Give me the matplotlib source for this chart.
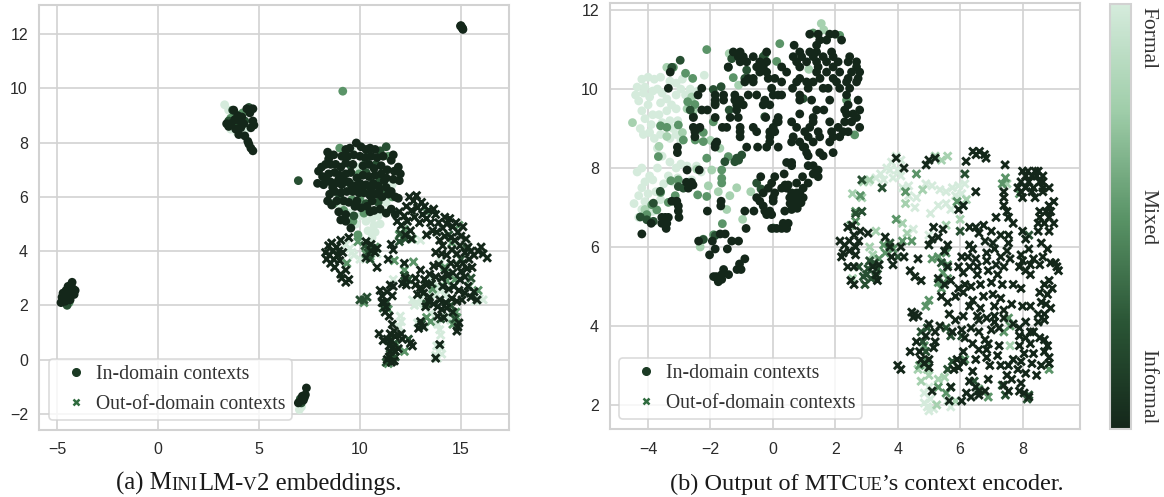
import matplotlib
matplotlib.use("Agg")
import matplotlib.pyplot as plt
from matplotlib.cm import ScalarMappable
from matplotlib.colors import LinearSegmentedColormap, Normalize
from matplotlib.lines import Line2D

W, H = 1164, 497

# formality tone of each group: 0 informal, 1 formal
DARK, DEEP, MID, PALE, LIGHT = 0.0, 0.22, 0.5, 0.78, 1.0
cbar_colors = ["#14271a", "#2a5535", "#5a9467", "#9fcda9", "#d5ebdc"]
cbar_labels = ["Formal", "Mixed", "Informal"]
legend_labels = ["In-domain contexts", "Out-of-domain contexts"]
a_xticks = [-5, 0, 5, 10, 15]
a_yticks = [-2, 0, 2, 4, 6, 8, 10, 12]
b_xticks = [-4, -2, 0, 2, 4, 6, 8]
b_yticks = [2, 4, 6, 8, 10, 12]

# panel a, in-domain
a_in_light = [(10.0,5.3),(10.3,5.1),(10.6,5.2),(10.9,5.3),(11.1,5.5),(10.7,4.95),(10.4,4.75),(10.75,4.7),(9.8,5.0),(9.5,5.4),
              (9.1,5.7),(9.5,7.5),(9.6,7.7),(9.95,7.1),(8.9,6.1),(11.4,6.3),(11.6,6.45),(11.3,5.8),(11.0,5.0),(3.3,9.4),
              (3.5,9.2),(3.7,8.9),(3.9,8.4),(4.2,8.3),(4.35,8.5),(3.6,8.5),(7.0,-1.85),(7.1,-1.75),(7.05,-1.65),(10.0,4.45),(10.6,4.5)]
a_in_mid = [(8.5,7.5),(9.0,7.8),(9.95,6.85),(10.3,7.3),(10.4,6.3),(10.0,5.9),(9.2,5.5),(8.7,5.75),(9.6,5.9),(11.6,6.0),(11.2,6.3),
            (10.9,6.5),(9.65,5.1),(10.2,5.4),(9.9,4.6),(3.6,8.9),(4.0,8.7),(4.2,9.1),(3.8,9.1),(9.15,9.9),(7.0,-1.55),(-4.6,2.4),(-4.4,2.1),(11.4,7.5)]
a_in_deep = [(9.55,7.15),(10.4,7.7),(11.0,7.7),(11.3,7.85),(10.8,7.2),(11.0,6.6),(10.3,6.9),(9.5,6.5),(9.0,6.0),(9.7,5.3),(10.3,5.75),
             (10.9,5.8),(3.5,8.8),(3.9,8.6),(4.3,8.8),(3.7,9.2),(4.5,9.3),(6.95,6.6),(7.05,-1.45),(7.1,-1.6),(-4.7,2.2),(-4.5,2.0),(-4.2,2.5)]
a_in_dark = [(15.0,12.32),(15.05,12.25),(15.1,12.18),(15.08,12.22),(14.98,12.3),
             (-4.8,2.1),(-4.75,2.3),(-4.7,2.45),(-4.6,2.15),(-4.6,2.3),(-4.55,2.55),(-4.5,2.2),(-4.5,2.4),(-4.45,2.7),(-4.4,2.35),(-4.4,2.55),(-4.35,2.2),(-4.3,2.45),(-4.3,2.7),(-4.25,2.85),(-4.2,2.6),(-4.15,2.4),(-4.1,2.55),
             (3.4,8.7),(3.5,8.6),(3.6,8.7),(3.75,9.2),(3.8,8.85),(3.85,8.5),(3.95,9.0),(4.0,8.3),(4.05,8.8),(4.1,8.55),(4.15,8.95),(4.25,8.7),(4.3,8.25),(4.4,9.25),(4.45,8.05),(4.5,7.95),(4.6,7.8),(4.7,7.7),(4.6,8.55),(4.7,8.8),(4.75,8.65),(4.55,9.1),(4.7,9.25),
             (7.35,-1.05),(7.25,-1.4),(7.3,-1.3),(7.2,-1.5),(7.15,-1.35),(7.1,-1.5),(6.95,-1.6),
             (9.82,7.99),(10.05,7.85),(9.5,7.8),(9.3,7.75),(10.3,7.75),(10.5,7.8),(10.75,7.75),
             (8.4,7.65),(8.45,7.4),(8.7,7.55),(9.1,7.5),(9.4,7.5),(9.7,7.55),(10.0,7.5),(10.25,7.45),(10.55,7.5),(10.85,7.45),(11.15,7.5),(11.55,7.35),(11.65,7.55),
             (7.95,6.95),(8.1,7.1),(8.3,7.2),(8.55,7.2),(8.8,7.2),(9.05,7.1),(9.3,7.25),(9.65,7.2),(10.15,7.15),(10.45,7.2),(10.7,7.05),(11.05,7.15),(11.35,7.0),(11.7,6.95),(12.0,6.85),(11.9,7.1),
             (8.15,6.75),(8.45,6.85),(8.75,6.9),(9.0,6.8),(9.3,6.85),(9.55,6.9),(9.85,6.7),(10.15,6.8),(10.45,6.75),(10.75,6.8),(11.05,6.85),(11.3,6.7),(11.65,6.65),(11.95,6.6),
             (7.9,6.5),(8.2,6.45),(8.55,6.55),(8.8,6.5),(9.1,6.45),(9.45,6.55),(9.75,6.4),(10.0,6.5),(10.3,6.45),(10.65,6.5),(10.95,6.2),(11.3,6.35),(11.55,6.2),
             (8.5,6.1),(8.75,6.2),(9.05,6.15),(9.35,6.2),(9.65,6.2),(9.95,6.15),(10.2,6.15),(10.5,6.05),(10.8,6.1),(11.1,6.0),(11.9,5.95),(11.75,6.0),
             (8.4,5.85),(8.6,5.7),(8.85,5.85),(9.2,5.85),(9.45,5.8),(9.75,5.65),(10.05,5.6),(10.35,5.65),(10.7,5.5),(11.0,5.55),(11.3,5.4),(8.95,5.45),(9.3,5.35),
             (9.05,5.15),(9.3,5.1),(9.55,4.85),(10.5,5.45),(11.55,5.55),(11.75,5.35),(9.2,6.6),(9.6,6.3),(10.1,6.3),(10.55,6.3),(10.9,6.4),(11.2,6.6),(11.4,6.1),(9.85,5.85),(10.6,5.85),(8.3,6.6),(8.65,6.35),(8.95,6.65)]

# panel a, out-of-domain
a_out_light = [(9.3,4.25),(9.5,4.1),(9.6,3.95),(10.0,3.7),(9.7,3.85),(10.85,3.9),(11.65,2.95),(12.6,2.2),(12.7,2.0),(12.9,2.05),(13.0,2.25),(12.85,1.35),
               (13.2,1.2),(13.5,1.7),(14.5,1.45),(14.7,1.35),(14.3,1.6),(12.0,1.6),(12.05,1.4),(11.95,1.2),(13.85,1.3),(13.95,1.1),(14.0,0.9),
               (13.8,0.5),(14.0,0.45),(13.9,0.3),(13.75,0.15),(14.05,0.2),(13.85,0.05),(13.9,2.7),(13.6,2.5),(13.8,2.4),(14.0,2.6),(14.2,2.35),(15.9,2.25),(16.1,2.2),(15.7,2.15),(14.0,3.6),(13.5,3.0),(13.0,4.4)]
a_out_mid = [(9.9,4.35),(10.5,3.8),(10.75,4.15),(10.3,3.9),(11.7,3.65),(12.65,3.6),(12.2,3.3),(9.35,3.55),(10.2,2.1),(11.4,1.85),(13.3,1.55),(13.5,1.4),(14.6,1.3),
            (14.8,1.55),(14.75,1.75),(13.6,2.6),(14.3,2.9),(14.7,2.95),(15.4,2.7),(15.85,2.55),(13.3,5.45),(12.6,4.45),(12.2,4.8),(11.95,4.6),(14.55,4.3),(14.9,4.95),(12.2,0.3),(11.8,0.55),(11.4,-0.15),(11.5,0.05),(14.2,3.4)]
a_out_deep = [(10.2,2.2),(10.0,2.2),(10.35,2.3),(10.25,4.2),(10.4,3.95),(10.6,4.1),(10.5,3.7),(12.0,4.65),(11.95,4.35),(12.25,4.45),(12.4,2.95),(12.2,3.1),(11.15,1.9),
             (11.3,2.1),(13.05,1.3),(14.0,1.5),(14.7,1.5),(11.4,0.7),(11.7,0.6),(11.5,0.2),(11.75,0.1),(11.6,-0.05),(11.3,-0.1),(12.4,0.75),(14.4,4.6),(15.3,4.1),(15.0,3.7),(15.5,3.0),(14.5,2.0),(13.3,2.05)]
a_out_dark = [(8.3,3.95),(8.35,3.7),(8.45,4.2),(8.5,3.85),(8.55,3.55),(8.6,4.3),(8.65,4.0),(8.7,3.7),(8.75,3.4),(8.85,4.15),(8.9,3.85),(8.95,4.0),(9.0,3.65),(9.05,4.4),(9.15,3.95),(9.45,4.5),(9.3,3.3),(9.1,3.0),(9.3,2.85),(9.45,2.95),(9.05,3.15),
              (10.3,4.35),(10.55,4.25),(10.75,3.95),(10.55,4.0),(10.85,4.1),(10.3,3.75),(10.85,3.4),(11.55,4.25),(11.65,4.05),(11.4,3.7),(12.2,3.55),(12.25,3.0),(12.1,2.8),(12.3,2.75),
              (11.0,2.55),(11.1,2.35),(11.2,2.1),(11.35,2.5),(11.5,2.75),(11.65,2.7),(11.25,1.75),(11.45,1.6),(11.3,1.95),(11.6,2.35),(11.1,2.1),
              (11.85,5.1),(11.95,5.45),(12.05,4.95),(12.2,5.3),(12.3,5.65),(12.35,5.1),(12.45,6.0),(12.5,4.75),(12.55,5.5),(12.65,5.85),(12.7,5.25),(12.8,6.05),(12.85,5.6),(12.95,5.05),(13.05,5.8),(13.1,5.35),(13.2,5.65),(13.3,5.2),(13.4,5.5),(13.5,5.05),(13.65,5.55),(13.75,5.35),(12.25,4.6),(12.55,4.45),(13.6,4.75),(13.3,4.6),
              (13.8,4.7),(13.9,5.05),(13.95,4.4),(14.1,4.85),(14.2,5.25),(14.3,5.0),(14.1,4.2),(14.45,5.2),(14.6,4.9),(14.75,5.05),(14.85,4.7),(15.0,4.55),(15.1,4.9),(15.25,4.45),(15.35,4.15),(15.5,4.0),(15.65,3.85),(16.0,4.15),(16.1,3.9),(16.3,3.75),(15.85,4.0),
              (14.2,4.55),(14.5,4.5),(14.7,4.4),(14.95,4.2),(15.2,3.95),(13.75,3.95),(14.05,3.9),(14.3,3.85),(14.55,4.05),(14.8,3.9),(15.1,3.55),(15.4,3.7),(13.65,3.45),(13.9,3.5),(14.2,3.3),(14.5,3.55),(14.8,3.5),(15.0,3.25),(15.3,3.35),(15.55,3.4),
              (12.75,3.0),(13.0,3.3),(13.2,2.95),(13.45,3.15),(13.75,3.05),(14.05,3.0),(14.35,3.1),(14.6,3.2),(14.95,2.95),(15.2,3.05),(15.35,2.7),(12.75,2.75),(13.0,2.65),(13.3,2.75),(13.55,2.8),(14.1,2.7),(14.4,2.6),(14.65,2.7),(14.9,2.55),(15.2,2.45),(15.5,2.3),(15.8,2.2),(15.65,2.5),
              (12.85,2.4),(13.15,2.45),(13.45,2.3),(13.65,2.05),(13.95,2.2),(14.25,2.1),(14.55,2.25),(14.8,2.15),(15.05,2.2),(13.25,1.95),(13.4,2.15),(13.85,1.95),(14.05,1.85),(14.3,1.9),(14.6,1.75),(14.15,1.55),(13.85,1.6),(13.0,1.4),(12.9,1.15),(13.15,1.2),(14.9,1.35),(14.85,1.2),(14.8,1.05),(12.05,0.95),
              (11.6,1.3),(11.7,1.05),(11.5,0.95),(11.35,0.75),(10.95,0.95),(11.15,0.7),(11.55,0.7),(11.75,0.85),(12.1,0.75),(11.45,0.5),(11.65,0.45),(11.9,0.4),(12.5,0.6),(12.6,0.5),(11.5,0.3),(11.75,0.3),(11.45,0.1),(11.55,-0.1),(11.35,0.0),(11.7,-0.05),(13.75,0.05),(13.95,0.55)]

# panel b, in-domain
b_in_light = [(-4.35,10.05),(-4.4,9.85),(-4.3,9.7),(-4.15,9.9),(-4.1,10.05),(-3.95,9.8),(-4.0,9.6),(-3.85,9.95),(-3.7,10.0),(-3.55,9.9),(-3.6,9.65),(-3.4,9.75),(-3.25,9.6),(-3.1,9.85),(-2.95,10.0),(-2.8,9.85),(-2.65,10.0),(-2.5,9.85),(-2.4,9.95),(-2.7,9.7),
              (-4.2,9.45),(-4.1,9.25),(-3.85,9.35),(-3.9,9.1),(-3.65,9.35),(-3.55,9.15),(-3.4,9.45),(-3.3,9.2),(-3.1,9.5),(-3.2,9.0),(-3.05,9.2),(-4.25,9.0),(-4.15,8.85),(-3.95,8.9),(-3.8,8.75),(-3.6,8.85),(-3.3,8.75),(-3.1,8.85),(-2.95,8.7),(-3.7,8.5),
              (-3.55,8.3),(-3.3,8.15),(-3.1,8.0),(-2.95,8.1),(-2.75,8.05),(-4.35,7.9),(-4.2,8.0),(-3.95,7.8),(-4.1,7.65),(-3.85,7.7),(-3.7,8.0),(-3.5,7.6),(-3.35,7.8),(-3.2,7.65),(-3.05,7.75),(-2.9,7.55),(-4.3,7.3),(-4.1,7.15),(-4.2,7.5),(-4.0,7.35),
              (-3.75,7.4),(-3.6,7.2),(-4.45,7.1),(-4.2,6.95),(-4.3,6.75),(-2.6,7.7),(-2.45,8.05),(-2.3,7.9),(-3.85,6.9),(-4.2,10.25),(-4.0,10.3),(-3.8,10.25),(-3.6,10.3),(-3.3,10.2),(-3.1,10.15),(-2.9,10.25),(-2.2,10.35)]
b_in_pale = [(-4.5,9.15),(-3.65,8.55),(-3.4,8.8),(-2.9,8.9),(-2.75,9.5),(-2.55,9.45),(-3.4,10.55),(-1.4,10.9),(-1.1,10.1),(1.55,11.66),(1.63,11.5),(1.15,10.5),(-1.48,6.95),(-0.97,6.7),(-1.38,7.3),(-1.16,7.5),(-1.75,7.4),(-2.07,7.55),(-0.71,7.4),(-2.33,6.0),(-2.23,6.2),(-2.0,8.7),(-1.7,8.5),(-1.96,7.95),(-2.44,7.97),(-4.1,6.95),(-4.15,6.78),(-2.6,9.8)]
b_in_mid = [(-2.12,11.0),(-1.27,10.29),(0.12,10.7),(0.22,11.15),(2.14,11.36),(1.29,11.42),(-0.26,10.86),(-2.8,10.4),(-2.57,10.27),(-3.19,10.55),(-2.73,9.68),(-2.5,9.61),(-1.91,9.17),(-3.03,9.09),(-3.4,9.03),(-3.6,9.07),(-2.87,8.71),(-2.49,8.71),(-2.23,8.67),(-2.23,8.9),(-3.67,8.29),(-2.12,8.25),(-1.43,8.29),(-1.64,7.95),(-1.64,7.74),(-3.27,7.68),(-3.03,7.7),(-3.6,7.38),(-3.35,7.13),(-3.13,7.3),(-2.41,7.32),(-2.12,7.28),(-1.64,7.62),(-3.88,7.07),(-3.72,6.94),(-4.04,6.82),(-1.62,6.59),(-1.9,6.31),(2.62,8.84),(2.36,9.72)]
b_in_deep = [(-2.97,10.73),(-3.24,10.55),(-0.84,10.48),(-0.9,10.27),(-1.43,10.55),(-1.32,10.77),(-0.31,10.82),(-1.91,9.99),(-1.66,10.06),(-1.85,9.64),(-1.4,9.47),(-2.65,9.47),(-2.55,9.3),(-2.39,9.0),(-1.16,8.25),(-1.22,8.16),(-1.0,8.33),(-1.54,8.16),(-3.03,7.53),(-2.87,7.49),(-3.61,7.41),(-3.13,7.15),(-3.83,7.11),(-4.25,6.76),(-3.83,6.65),(-4.04,6.69),(-0.38,7.47),(-0.52,7.62),(-2.23,6.19),(-1.85,6.29),(0.01,6.48),(0.97,9.76),(-0.26,9.3),(-1.1,8.2)]
b_in_dark = [(1.18,11.39),(1.45,11.39),(1.82,11.39),(1.99,11.39),(1.5,11.24),(1.72,11.24),(2.2,11.24),(0.68,11.11),(1.4,11.11),
             (-0.2,10.94),(-1.05,10.94),(-1.27,10.94),(0.86,10.94),(1.18,10.94),(1.88,10.94),(1.4,10.94),(-0.95,10.82),(-1.11,10.82),(-0.63,10.82),(0.65,10.82),(0.92,10.82),(1.29,10.82),(1.61,10.82),(1.93,10.82),(2.46,10.82),
             (-1.05,10.69),(-0.84,10.69),(-0.42,10.69),(-0.2,10.69),(0.76,10.69),(1.08,10.69),(1.4,10.69),(1.72,10.69),(2.09,10.69),(2.41,10.69),(2.68,10.69),(-0.52,10.56),(-1.43,10.56),(-0.31,10.56),(0.28,10.56),(0.86,10.56),(1.45,10.56),(1.93,10.56),(2.68,10.56),
             (-3.29,10.43),(-0.42,10.43),(-0.2,10.43),(0.44,10.43),(1.4,10.43),(1.72,10.43),(2.14,10.43),(2.52,10.43),(2.78,10.43),(0.06,10.27),(-0.15,10.27),(-0.79,10.27),(-0.63,10.27),(0.86,10.27),(1.51,10.27),(1.93,10.27),(2.41,10.27),(2.73,10.27),
             (0.28,10.18),(-0.63,10.18),(-0.9,10.18),(1.08,10.18),(0.76,10.18),(1.29,10.18),(2.04,10.18),(2.36,10.18),(2.68,10.18),(-3.35,10.02),(-2.28,10.02),(-0.04,10.02),(0.63,10.02),(1.13,10.02),(1.61,10.02),(2.46,10.02),(1.77,10.02),(2.14,10.02),
             (-0.79,9.85),(-0.52,9.85),(0.01,9.85),(0.17,9.85),(0.28,9.85),(-2.4,9.85),(-1.85,9.85),(-1.58,9.85),(-1.22,9.85),(0.86,9.85),(2.36,9.85),(-1.58,9.72),(-1.85,9.72),(-1.05,9.72),(-0.26,9.72),(1.24,9.72),(1.82,9.72),(-1.22,9.72),(0.86,9.72),(2.73,9.72),
             (-1.85,9.6),(-0.95,9.6),(-0.1,9.6),(-0.31,9.6),(2.41,9.6),(-1.16,9.6),(-2.28,9.47),(-2.1,9.47),(-1.16,9.47),(1.40,9.47),(1.63,9.47),(2.30,9.47),(2.78,9.47),(0.86,9.37),(2.36,9.37),(2.57,9.37),
             (-1.85,9.28),(-1.37,9.28),(-1.11,9.28),(-2.55,9.28),(-0.23,9.28),(0.17,9.28),(1.29,9.28),(2.68,9.28),(0.17,9.17),(0.60,9.17),(0.12,9.17),(1.82,9.17),(1.29,9.17),(2.30,9.17),(2.52,9.17),
             (-2.55,9.03),(-2.34,9.03),(-1.62,9.03),(-1.48,9.03),(-1.05,9.03),(-0.63,9.03),(0.76,9.03),(0.01,9.03),(1.18,9.03),(2.09,9.03),(2.78,9.03),(-2.50,8.92),(-1.05,8.92),(-0.52,8.92),(-0.10,8.92),(0.06,8.92),(1.02,8.92),(1.45,8.92),(1.88,8.92),(2.25,8.92),(2.41,8.92),
             (-1.05,8.79),(-2.5,8.79),(-0.1,8.79),(0.65,8.79),(1.13,8.79),(1.50,8.79),(1.93,8.79),(2.14,8.79),(0.60,8.66),(-0.1,8.66),(0.86,8.66),(1.29,8.66),(1.82,8.66),(-1.8,8.66),(-1.85,8.6),
             (-0.84,8.53),(-0.49,8.53),(-0.20,8.53),(0.17,8.53),(1.02,8.53),(-1.85,8.53),(0.97,8.53),(-3.06,8.53),(1.08,8.39),(1.50,8.39),(1.93,8.39),(-3.06,8.39),(1.61,8.31),(1.13,8.31),(0.44,8.14),(0.60,8.14),(0.60,8.06),(1.13,8.06),(1.29,8.06),
             (-2.75,7.95),(-2.36,7.95),(1.45,7.95),(1.29,7.85),(-0.39,7.78),(0.06,7.78),(0.95,7.78),(1.45,7.78),(0.36,7.85),(-2.61,7.64),(-2.77,7.64),(0.49,7.57),(-2.56,7.57),(0.39,7.57),(-0.04,7.62),(1.13,7.62),(0.76,7.62),
             (-0.15,7.49),(0.44,7.49),(0.28,7.49),(0.97,7.49),(-2.71,7.49),(0.06,7.37),(0.60,7.37),(0.76,7.37),(0.86,7.37),(-0.31,7.37),(0.01,7.25),(0.54,7.25),(0.81,7.25),(0.97,7.25),(-0.52,7.25),(0.70,7.25),(-0.42,7.16),(-3.24,7.16),(-3.08,7.16),(-1.66,7.16),(0.65,7.16),(0.01,7.16),
             (-1.67,7.04),(-0.31,7.04),(-3.03,7.04),(-2.1,6.91),(-0.90,6.91),(-0.61,6.91),(-0.26,6.91),(-3.03,6.91),(-0.10,6.91),(0.38,6.91),(-0.04,6.82),(-0.20,6.82),(-3.01,6.75),(-3.45,6.75),(-3.35,6.75),(-3.56,6.75),
             (-3.40,6.6),(-3.9,6.6),(-3.56,6.6),(0.49,6.6),(0.33,6.6),(-3.42,6.47),(-0.04,6.47),(0.12,6.47),(0.28,6.47),(0.44,6.47),(-0.86,6.47),(-4.2,6.33),(-1.53,6.33),(-1.69,6.33),(-2.38,6.15),(-1.32,6.15),(-1.10,6.15),(-1.94,6.15),
             (-1.85,5.95),(-1.46,5.95),(-2.03,5.8),(-0.90,5.7),(-1.07,5.57),(-1.02,5.43),(-1.15,5.43),(-1.64,5.3),(-1.42,5.3),(-1.58,5.43),(-1.90,5.25),(-1.64,5.18),(-1.77,5.18),(-1.81,5.25),(-1.75,5.12),
             (0.55,7.1),(0.72,7.05),(0.9,7.12),(0.6,6.95),(0.78,6.98)]

# panel b, out-of-domain
b_out_light = [(3.05,7.65),(3.3,7.75),(3.45,7.85),(3.65,8.0),(3.8,8.15),(3.95,8.3),(4.1,8.2),(3.75,7.95),(4.0,7.95),(3.55,7.7),(3.85,7.75),(4.1,7.8),(4.35,7.55),(4.35,7.3),(4.15,7.5),(5.1,7.55),(5.35,7.45),(5.55,7.4),(5.75,7.5),(5.95,7.55),(6.15,7.6),(6.05,7.35),(5.85,7.3),(5.3,7.05),(5.55,7.1),(5.7,6.95),(5.05,6.85),(4.9,7.6),(4.6,7.25),(4.55,7.0),(5.0,6.3),(4.5,6.45),
               (4.95,1.95),(4.85,2.05),(5.05,2.15),(5.0,1.85),(5.15,1.9),(4.85,2.3),(5.6,2.1),(5.7,1.95),(5.0,2.45)]
b_out_pale = [(3.1,7.7),(2.9,7.65),(2.55,7.35),(2.85,7.25),(5.2,8.3),(5.4,8.2),(5.6,8.3),(4.25,7.1),(4.15,6.6),(4.3,6.35),(3.3,6.4),(3.1,6.0),(3.2,5.8),(6.0,6.7),(5.55,6.55),(4.8,7.45),(6.2,7.2),(7.5,7.6),(5.0,2.75),(4.75,2.6),(4.65,2.9),(4.95,2.9),(5.3,2.65),(5.5,2.7),(5.25,2.0),(5.85,2.1),(7.6,3.5),(2.55,5.2)]
b_out_mid = [(2.8,7.3),(2.65,6.9),(2.5,6.55),(2.65,6.65),(3.55,6.05),(3.85,5.95),(3.4,5.7),(3.6,5.85),(4.15,6.15),(4.45,6.15),(3.95,6.7),(5.1,5.7),(5.3,5.75),(5.55,5.85),(5.6,5.55),(5.45,5.35),(5.6,5.2),(5.3,5.1),(5.4,4.95),(5.0,4.65),(4.9,4.5),(7.55,4.2),(7.9,7.35),(7.35,7.6),(7.45,7.75),(5.55,2.3),(5.3,2.45),(5.7,2.45),(4.7,3.0),(4.95,3.1),(4.85,3.5),(6.15,3.15),(6.6,2.4),(6.9,2.2),(7.4,3.85),(7.6,4.0),(8.85,2.9),(5.9,7.15),(6.1,7.05),(4.6,7.85),(4.25,7.4)]
b_out_deep = [(2.85,7.7),(3.5,7.5),(2.65,6.85),(2.85,6.9),(3.75,6.1),(4.0,5.75),(3.1,5.65),(3.0,5.3),(2.95,5.05),(3.15,5.2),(3.05,5.45),(2.75,5.5),(2.9,5.25),(3.3,5.25),(3.35,5.45),(3.25,5.6),(4.8,3.6),(4.9,3.35),(4.75,3.85),(4.95,3.95),(5.55,3.95),(5.7,3.75),(5.4,5.6),(6.0,6.4),(6.15,7.85),(8.2,6.3),(5.6,2.9),(5.75,3.1),(6.45,2.6),(7.35,2.5),(7.45,2.25),(8.15,2.15),(8.2,2.25),(6.05,3.75)]
b_out_dark = [(6.41,8.42),(6.62,8.42),(6.51,8.34),(6.78,8.34),(6.83,8.25),(6.19,8.17),(7.44,8.08),(4.91,8.08),(5.2,8.25),(5.0,8.2),(3.95,8.25),(4.2,8.0),
              (8.0,7.92),(8.17,7.92),(8.4,7.92),(8.5,7.92),(8.1,7.8),(8.3,7.8),(8.45,7.8),(8.65,7.8),(7.95,7.65),(8.2,7.65),(8.55,7.65),(8.65,7.65),(7.85,7.5),(8.1,7.5),(8.35,7.5),(8.65,7.5),(8.85,7.5),(6.5,7.4),(7.4,7.4),(7.95,7.4),(8.3,7.4),(8.65,7.4),(7.4,7.25),(8.0,7.25),(8.4,7.25),
              (7.4,7.05),(6.1,7.05),(5.95,6.95),(8.85,7.05),(9.0,7.15),(8.75,6.9),(7.5,6.9),(8.55,6.9),(8.9,6.9),(7.55,6.75),(7.15,6.75),(8.55,6.75),(8.85,6.75),(2.55,6.55),(2.4,6.5),(7.7,6.6),(8.5,6.6),(8.7,6.6),(9.0,6.6),
              (5.15,6.5),(5.45,6.45),(6.3,6.5),(6.75,6.55),(6.5,6.5),(2.8,6.4),(3.05,6.35),(7.0,6.4),(6.6,6.35),(8.0,6.4),(8.5,6.4),(8.85,6.4),(7.3,6.3),(7.55,6.3),(5.1,6.2),(5.3,6.25),(2.6,6.3),(2.45,6.15),(2.75,6.15),(3.6,6.25),
              (5.0,6.05),(5.6,6.05),(6.3,6.05),(6.8,6.15),(7.05,6.1),(7.55,6.1),(8.1,6.2),(8.6,6.1),(2.15,6.15),(2.3,6.05),(2.65,6.0),(3.75,6.0),(4.1,6.0),(2.25,5.85),(2.65,5.8),(3.8,5.75),(6.4,5.95),(7.1,5.95),(7.5,5.9),(8.2,5.95),(8.8,5.95),(5.5,5.9),(6.85,5.85),(2.2,5.75),(2.45,5.9),(7.95,5.8),
              (6.05,5.75),(6.25,5.75),(6.5,5.7),(6.85,5.65),(7.3,5.75),(7.6,5.7),(8.0,5.65),(8.35,5.7),(8.65,5.75),(8.9,5.6),(4.2,5.75),(4.65,5.7),(3.85,5.55),(2.4,5.5),(2.6,5.5),(3.2,5.5),(3.4,5.55),(5.6,5.5),(5.95,5.5),(6.3,5.5),(6.55,5.5),(7.15,5.55),(7.4,5.5),(7.9,5.5),(8.25,5.55),(8.55,5.55),(9.1,5.5),
              (4.4,5.4),(4.55,5.25),(4.75,5.15),(6.1,5.35),(6.55,5.3),(6.9,5.4),(7.2,5.3),(8.1,5.4),(8.25,5.3),(9.05,5.6),(9.15,5.4),(2.5,5.15),(2.6,5.05),(3.3,5.3),(3.35,5.15),(5.3,5.2),(5.5,5.05),(5.7,5.15),(5.95,4.95),(6.15,5.05),(6.35,5.0),(6.65,5.05),(7.0,5.1),(7.35,5.05),(7.7,5.05),(7.95,4.95),(8.7,5.05),(8.85,5.15),
              (5.4,4.75),(5.6,4.6),(5.85,4.75),(6.1,4.85),(6.4,4.65),(6.75,4.75),(7.05,4.8),(7.3,4.7),(7.65,4.55),(8.55,4.85),(8.8,4.8),(8.95,4.95),(8.6,4.6),(8.75,4.55),(6.3,4.5),(6.65,4.45),(7.1,4.5),(7.4,4.4),(8.0,4.5),(8.25,4.5),(8.5,4.3),(8.7,4.3),(8.9,4.45),
              (6.1,4.25),(6.55,4.25),(6.85,4.2),(7.1,4.25),(7.4,4.2),(8.5,4.1),(8.7,4.15),(4.45,4.35),(4.55,4.3),(4.65,4.25),(4.5,4.22),(5.65,4.3),(5.85,4.15),(6.35,3.95),(6.6,4.15),(7.1,4.1),(7.25,3.95),(7.7,4.05),
              (5.0,4.05),(5.35,4.0),(5.75,3.85),(6.05,3.9),(6.15,3.7),(7.9,3.95),(8.1,4.1),(8.25,3.85),(7.9,3.75),(8.1,3.7),(8.35,3.85),(8.55,3.7),(6.6,3.85),(7.0,3.9),(6.8,3.65),
              (4.6,3.6),(4.9,3.75),(5.2,3.85),(5.2,3.6),(6.4,3.55),(6.9,3.55),(7.25,3.5),(7.9,3.5),(8.05,3.3),(8.25,3.55),(8.7,3.65),(8.8,3.5),(4.4,3.35),(4.7,3.35),(5.0,3.15),(5.15,3.45),(6.1,3.35),(6.6,3.4),(6.85,3.4),(7.2,3.25),(8.35,3.3),(8.7,3.35),(8.85,3.2),(4.0,3.0),(4.1,2.9),(4.75,3.15),(4.85,3.05),
              (5.0,2.95),(5.9,3.15),(6.1,3.1),(6.5,3.15),(6.85,3.2),(6.95,3.0),(7.3,3.0),(7.55,3.0),(7.7,3.15),(7.95,3.1),(8.3,3.05),(8.6,3.0),(8.85,3.05),(5.8,2.9),(5.95,2.95),(6.4,2.85),(7.5,2.75),(7.85,2.9),(8.1,2.8),(8.45,2.75),
              (6.5,2.45),(6.2,2.3),(5.1,2.35),(5.7,2.45),(6.3,2.6),(6.6,2.25),(6.8,2.35),(6.9,2.65),(7.4,2.5),(7.55,2.35),(7.65,2.65),(7.95,2.55),(8.05,2.3),(8.2,2.2),(7.9,2.35),(6.05,2.1),(6.35,2.2),(6.6,2.35),(5.65,2.1)]

cbar_cmap = LinearSegmentedColormap.from_list("formality", cbar_colors)
norm = Normalize(0, 1)

plt.rcParams["font.family"] = ["Liberation Sans", "DejaVu Sans"]
fig = plt.figure(figsize=(W / 100, H / 100), dpi=100)


def add_panel(box, xlim, ylim, xticks, yticks):
    left, top, right, bottom = box
    ax = fig.add_axes([left / W, 1 - bottom / H, (right - left) / W, (bottom - top) / H])
    ax.set_xlim(*xlim)
    ax.set_ylim(*ylim)
    ax.set_xticks(xticks)
    ax.set_yticks(yticks)
    ax.grid(True, color="#d2d2d2", lw=1.2)
    ax.set_axisbelow(True)
    ax.tick_params(length=0, labelsize=11.5, labelcolor="#2b2b2b")
    ax.tick_params(axis="x", pad=9)
    ax.tick_params(axis="y", pad=8)
    for s in ax.spines.values():
        s.set_color("#d2d2d2")
        s.set_linewidth(1.5)
    return ax


def draw(ax, pts, tone, marker):
    xs = [p[0] for p in pts]
    ys = [p[1] for p in pts]
    colors = [tone] * len(xs)
    if marker == "o":
        ax.scatter(xs, ys, c=colors, cmap=cbar_cmap, norm=norm, s=40, marker="o", linewidths=0)
    else:
        ax.scatter(xs, ys, c=colors, cmap=cbar_cmap, norm=norm, s=30, marker="x", linewidths=2.1)


ax_a = add_panel((39, 5, 509, 430), (-5.89, 17.38), (-2.6, 13.08), a_xticks, a_yticks)
ax_b = add_panel((610, 3, 1080, 429), (-5.22, 9.84), (1.39, 12.18), b_xticks, b_yticks)

for tone, pts in [(LIGHT, a_in_light), (MID, a_in_mid), (DEEP, a_in_deep), (DARK, a_in_dark)]:
    draw(ax_a, pts, tone, "o")
for tone, pts in [(LIGHT, a_out_light), (MID, a_out_mid), (DEEP, a_out_deep), (DARK, a_out_dark)]:
    draw(ax_a, pts, tone, "x")
for tone, pts in [(LIGHT, b_in_light), (PALE, b_in_pale), (MID, b_in_mid), (DEEP, b_in_deep), (DARK, b_in_dark)]:
    draw(ax_b, pts, tone, "o")
for tone, pts in [(LIGHT, b_out_light), (PALE, b_out_pale), (MID, b_out_mid), (DEEP, b_out_deep), (DARK, b_out_dark)]:
    draw(ax_b, pts, tone, "x")

handles = [
    Line2D([], [], ls="", marker="o", ms=5.5, mfc="#1b3a24", mec="#1b3a24"),
    Line2D([], [], ls="", marker="x", ms=5, mew=1.8, color="#2f6b3e"),
]
for ax, anchor in [(ax_a, (49, 420)), (ax_b, (619, 419))]:
    leg = fig.legend(handles, legend_labels, loc="lower left",
                     bbox_to_anchor=(anchor[0] / W, 1 - anchor[1] / H),
                     bbox_transform=fig.transFigure, borderaxespad=0,
                     prop={"family": "Liberation Serif", "size": 14.2},
                     labelcolor="#333333", labelspacing=0.55, handlelength=2.1, handletextpad=0.0,
                     borderpad=0.3, framealpha=0.8, edgecolor="#d2d2d2", fancybox=True)
    leg.get_frame().set_linewidth(1.2)

# colour bar
cax = fig.add_axes([1110 / W, 1 - 429 / H, 21 / W, 425 / H])
cb = fig.colorbar(ScalarMappable(norm=norm, cmap=cbar_cmap), cax=cax)
cb.set_ticks([])
cb.outline.set_edgecolor("#d2d2d2")
cb.outline.set_linewidth(1.5)
for label, y in zip(cbar_labels, [38, 217, 387]):
    fig.text(1148 / W, 1 - y / H, label, rotation=270, ha="center", va="center",
             family="Liberation Serif", fontsize=15.5, color="#333333")


def caption(x, y, parts):
    # small caps done by hand, one text piece after the other
    rend = fig.canvas.get_renderer()
    for txt, size in parts:
        t = fig.text(x / W, 1 - y / H, txt, family="Liberation Serif", fontsize=size,
                     color="#1a1a1a", va="baseline")
        x += t._get_layout(rend)[0].width


caption(116, 490, [("(a) M", 17.8), ("INI", 13.6), ("LM-", 17.8), ("V", 13.6), ("2 embeddings.", 17.8)])
caption(670, 490, [("(b) Output of MTC", 17.5), ("UE", 13.4), ("’s context encoder.", 17.5)])

fig.savefig("out.png", dpi=100)
